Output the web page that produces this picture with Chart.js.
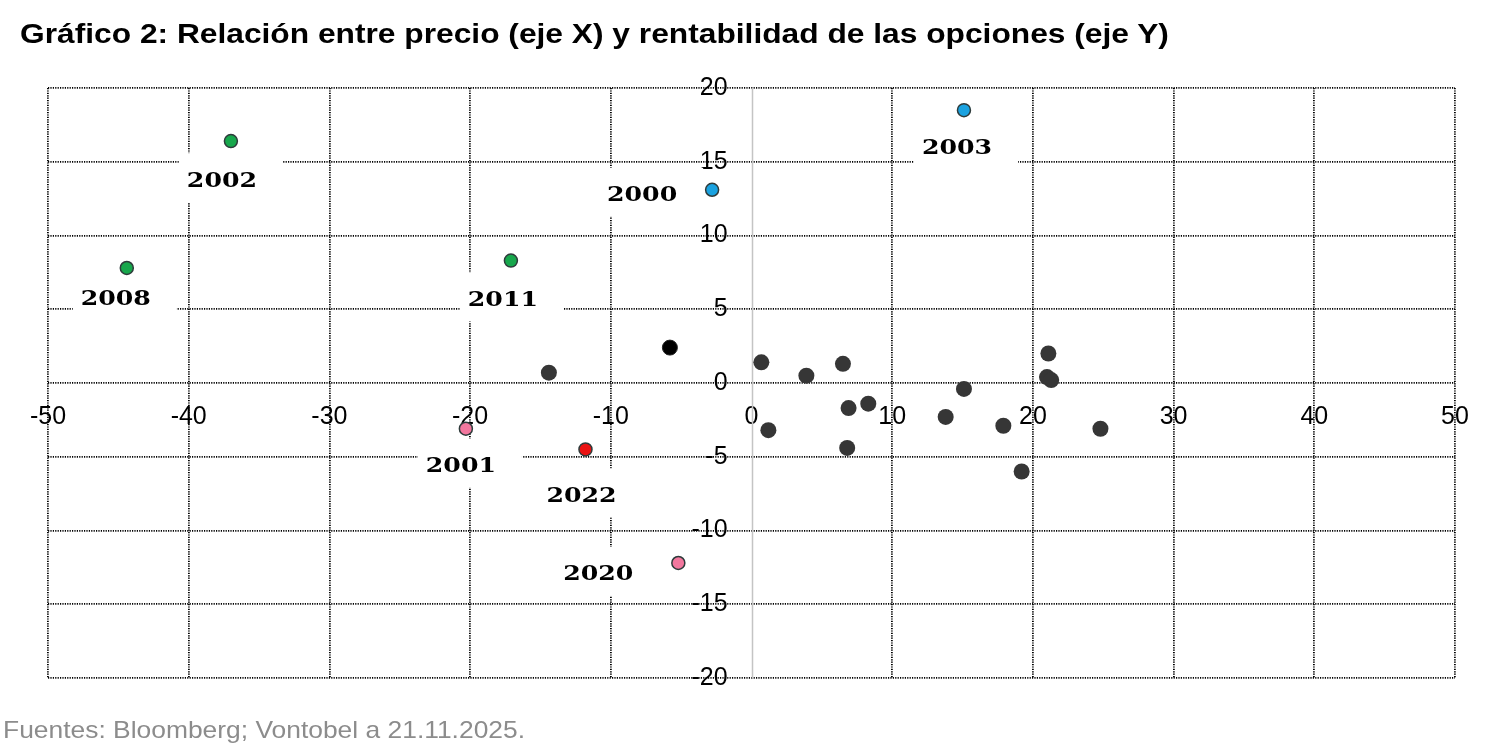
<!DOCTYPE html>
<html>
<head>
<meta charset="utf-8">
<script src="https://cdn.jsdelivr.net/npm/chart.js@4.4.1/dist/chart.umd.min.js"></script>
<style>
    body { margin: 0; background: #fff; }
    #wrap { position: relative; width: 1500px; height: 750px; }
    #title {
        position: absolute; left: 20px; top: 18px;
        font: bold 28px "Liberation Sans", Arial, sans-serif;
        color: #000; white-space: nowrap; line-height: 32px;
        transform: scaleX(1.133); transform-origin: 0 0;
    }
    #source {
        position: absolute; left: 3px; top: 716px;
        font: 24px "Liberation Sans", Arial, sans-serif;
        color: #8c8c8c; white-space: nowrap; line-height: 28px;
        transform: scaleX(1.1); transform-origin: 0 0;
    }
    #chartBox { position: absolute; left: 0; top: 0; width: 1500px; height: 750px; }
</style>
</head>
<body>
<div id="wrap">
    <div id="chartBox"><canvas id="chart"></canvas></div>
    <div id="title">Gráfico 2: Relación entre precio (eje X) y rentabilidad de las opciones (eje Y)</div>
    <div id="source">Fuentes: Bloomberg; Vontobel a 21.11.2025.</div>
</div>
<script>
// años destacados
const years = ["2000", "2001", "2002", "2003", "2008", "2011", "2020", "2022"];
const yearPrice = [-2.8, -20.3, -37.0, 15.1, -44.4, -17.1, -5.2, -11.8];
const yearReturn = [13.1, -3.1, 16.4, 18.5, 7.8, 8.3, -12.2, -4.5];

// año actual (punto negro)
const latestPrice = [-5.8];
const latestReturn = [2.4];

// resto de años
const otherPrice = [-14.4, 0.7, 1.2, 3.9, 6.5, 6.9, 8.3, 6.8, 13.8, 15.1, 17.9, 19.2, 21.1, 21.0, 21.3, 24.8];
const otherReturn = [0.7, 1.4, -3.2, 0.5, 1.3, -1.7, -1.4, -4.4, -2.3, -0.4, -2.9, -6.0, 2.0, 0.4, 0.2, -3.1];

const xTicks = [-50, -40, -30, -20, -10, 0, 10, 20, 30, 40, 50];
const yTicks = [-20, -15, -10, -5, 0, 5, 10, 15, 20];

const yearColors = {
    "2000": "#1aa2e0", "2003": "#1aa2e0",
    "2001": "#f2779e", "2020": "#f2779e",
    "2002": "#17a74c", "2008": "#17a74c", "2011": "#17a74c",
    "2022": "#ea1212",
};
// desplazamiento de la etiqueta respecto al punto (px)
const labelShift = {
    "2000": [-70, 6], "2001": [-5, 38], "2002": [-9, 40], "2003": [-7, 38],
    "2008": [-11, 32], "2011": [-8, 40], "2020": [-80, 12], "2022": [-4, 47],
};

const toPoints = (xs, ys) => xs.map((x, i) => ({ x: x, y: ys[i] }));

const zeroLine = {
    id: "zeroLine",
    beforeDatasetsDraw(chart) {
        const { ctx, chartArea, scales } = chart;
        const x = Math.round(scales.x.getPixelForValue(0)) + 0.5;
        ctx.save();
        ctx.strokeStyle = "#c4c4c4";
        ctx.lineWidth = 1.5;
        ctx.beginPath();
        ctx.moveTo(x, chartArea.top);
        ctx.lineTo(x, chartArea.bottom);
        ctx.stroke();
        ctx.restore();
    },
};

const yearLabels = {
    id: "yearLabels",
    beforeDatasetsDraw(chart) {
        const { ctx } = chart;
        const meta = chart.getDatasetMeta(2);
        const stretch = 1.2;
        ctx.save();
        ctx.font = "bold 21px 'DejaVu Serif'";
        ctx.textBaseline = "middle";
        ctx.textAlign = "center";
        meta.data.forEach((pt, i) => {
            const s = labelShift[years[i]];
            const cx = pt.x + s[0];
            const cy = pt.y + s[1];
            const w = ctx.measureText(years[i]).width * stretch;
            ctx.fillStyle = "#fff";
            ctx.fillRect(cx - w / 2 - 8, cy - 28, w + 34, 49);
            ctx.fillStyle = "#000";
            ctx.save();
            ctx.translate(cx, cy);
            ctx.scale(stretch, 1);
            ctx.fillText(years[i], 0, 0);
            ctx.restore();
        });
        ctx.restore();
    },
};

const tickFont = { family: "'Liberation Sans', Arial, sans-serif", size: 25 };

new Chart(document.getElementById("chart"), {
    type: "scatter",
    data: {
        datasets: [
            {
                data: toPoints(otherPrice, otherReturn),
                backgroundColor: "#363636",
                borderWidth: 0,
                pointRadius: 8,
            },
            {
                data: toPoints(latestPrice, latestReturn),
                backgroundColor: "#000",
                borderColor: "#222",
                borderWidth: 1,
                pointRadius: 7.5,
            },
            {
                data: toPoints(yearPrice, yearReturn),
                backgroundColor: years.map((y) => yearColors[y]),
                borderColor: "#2e3b3b",
                borderWidth: 1.5,
                pointRadius: 6.5,
            },
        ],
    },
    options: {
        responsive: true,
        maintainAspectRatio: false,
        animation: false,
        layout: { padding: { left: 48, right: 45, top: 88, bottom: 72 } },
        plugins: { legend: { display: false }, tooltip: { enabled: false } },
        scales: {
            x: {
                type: "linear",
                min: -50,
                max: 50,
                position: { y: 0 },
                afterBuildTicks: (s) => { s.ticks = xTicks.map((v) => ({ value: v })); },
                grid: {
                    color: (c) => (c.tick && c.tick.value === 0 ? "rgba(0,0,0,0)" : "#000"),
                    lineWidth: 1.8,
                    drawTicks: false,
                },
                border: { display: false, dash: [1.2, 1.2] },
                ticks: { font: tickFont, color: "#000", padding: 19, maxRotation: 0, autoSkip: false },
            },
            y: {
                type: "linear",
                min: -20,
                max: 20,
                // etiquetas un poco a la izquierda del eje vertical
                position: { x: -1.7 },
                afterBuildTicks: (s) => { s.ticks = yTicks.map((v) => ({ value: v })); },
                grid: { color: "#000", lineWidth: 1.8, drawTicks: false },
                border: { display: false, dash: [1.2, 1.2] },
                ticks: { font: tickFont, color: "#000", autoSkip: false },
            },
        },
    },
    plugins: [zeroLine, yearLabels],
});
</script>
</body>
</html>
